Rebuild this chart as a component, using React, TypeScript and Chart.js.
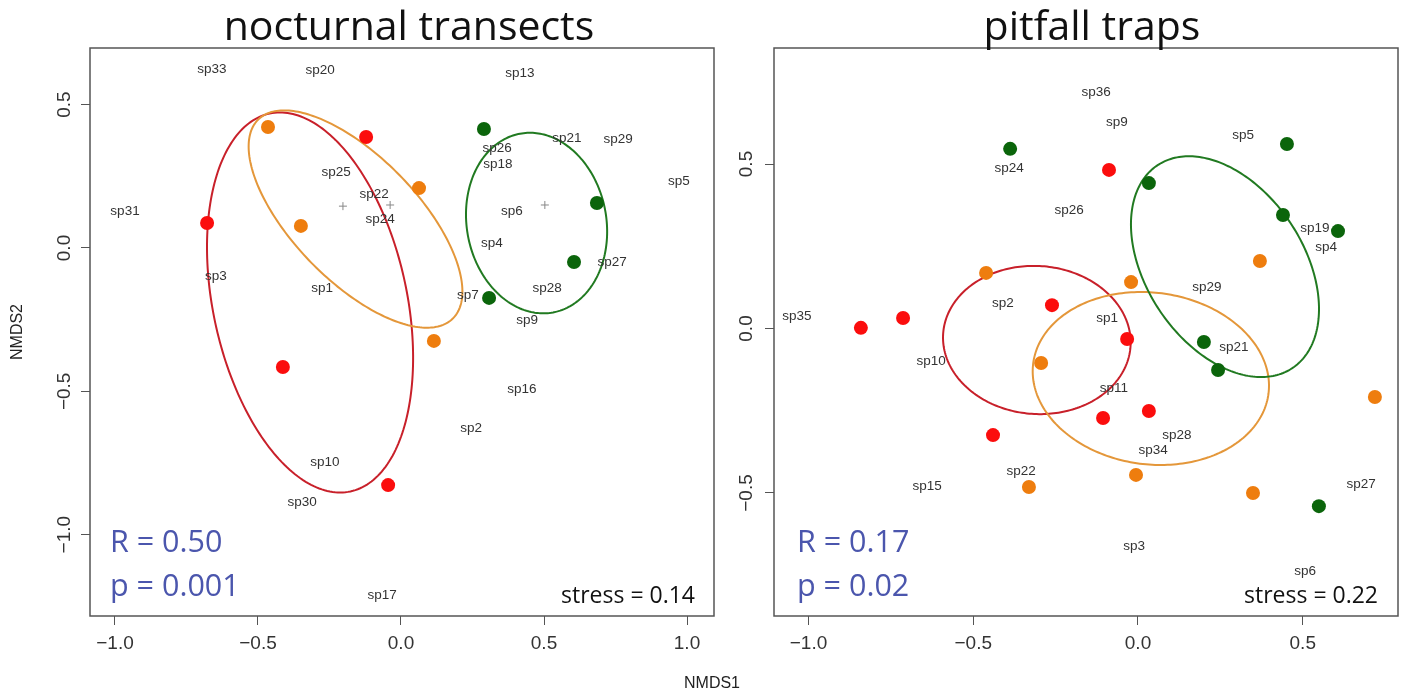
import React, { useEffect, useRef } from 'react';
import { Chart, registerables } from 'chart.js';

Chart.register(...registerables);

// ---------- nocturnal transects (left panel) ----------
const NT_RED_X = [-0.678, -0.122, -0.413, -0.045];
const NT_RED_Y = [0.087, 0.387, -0.415, -0.827];
const NT_ORANGE_X = [-0.465, -0.35, 0.063, 0.115];
const NT_ORANGE_Y = [0.422, 0.077, 0.209, -0.324];
const NT_GREEN_X = [0.29, 0.685, 0.605, 0.308];
const NT_GREEN_Y = [0.415, 0.157, -0.049, -0.174];
const NT_CROSS_X = [-0.203, -0.038, 0.503];
const NT_CROSS_Y = [0.146, 0.15, 0.15];
const NT_SPECIES = ['sp33', 'sp20', 'sp13', 'sp21', 'sp29', 'sp26', 'sp18', 'sp5', 'sp25', 'sp22', 'sp24', 'sp31', 'sp6', 'sp4', 'sp27', 'sp3', 'sp1', 'sp28', 'sp7', 'sp9', 'sp16', 'sp2', 'sp10', 'sp30', 'sp17'];
const NT_SPECIES_X = [-0.661, -0.283, 0.416, 0.58, 0.759, 0.336, 0.339, 0.972, -0.227, -0.094, -0.073, -0.965, 0.388, 0.318, 0.738, -0.647, -0.276, 0.511, 0.234, 0.441, 0.423, 0.245, -0.266, -0.346, -0.066];
const NT_SPECIES_Y = [0.624, 0.621, 0.61, 0.384, 0.38, 0.349, 0.293, 0.234, 0.265, 0.188, 0.101, 0.129, 0.129, 0.017, -0.049, -0.098, -0.14, -0.14, -0.164, -0.251, -0.492, -0.628, -0.746, -0.886, -1.21];
// ellipses: red, orange, green
const NT_ELL_CX = [-0.318, -0.159, 0.474];
const NT_ELL_CY = [-0.19, 0.101, 0.087];
const NT_ELL_A = [0.674, 0.486, 0.317];
const NT_ELL_B = [0.339, 0.217, 0.244];
const NT_ELL_ANGLE = [102.1, -45.6, 100.5];
const NT_X_TICKS = [-1, -0.5, 0, 0.5, 1];
const NT_Y_TICKS = [-1, -0.5, 0, 0.5];

// ---------- pitfall traps (right panel) ----------
const PT_RED_X = [-0.841, -0.713, -0.261, -0.088, -0.033, -0.44, -0.106, 0.033];
const PT_RED_Y = [0.002, 0.032, 0.071, 0.482, -0.032, -0.324, -0.272, -0.251];
const PT_ORANGE_X = [-0.461, -0.294, -0.021, 0.37, 0.719, -0.006, 0.349, -0.331];
const PT_ORANGE_Y = [0.169, -0.105, 0.141, 0.205, -0.208, -0.445, -0.5, -0.482];
const PT_GREEN_X = [-0.388, 0.033, 0.452, 0.44, 0.607, 0.2, 0.243, 0.549];
const PT_GREEN_Y = [0.546, 0.442, 0.561, 0.345, 0.296, -0.041, -0.126, -0.54];
const PT_SPECIES = ['sp36', 'sp9', 'sp5', 'sp24', 'sp26', 'sp19', 'sp4', 'sp29', 'sp2', 'sp1', 'sp35', 'sp10', 'sp21', 'sp11', 'sp28', 'sp34', 'sp22', 'sp15', 'sp27', 'sp3', 'sp6'];
const PT_SPECIES_X = [-0.127, -0.064, 0.319, -0.391, -0.209, 0.537, 0.571, 0.209, -0.41, -0.094, -1.035, -0.628, 0.291, -0.073, 0.118, 0.046, -0.355, -0.64, 0.677, -0.012, 0.507];
const PT_SPECIES_Y = [0.719, 0.627, 0.588, 0.488, 0.36, 0.305, 0.248, 0.126, 0.078, 0.032, 0.038, -0.099, -0.056, -0.181, -0.324, -0.369, -0.433, -0.479, -0.473, -0.661, -0.737];
const PT_ELL_CX = [-0.307, 0.039, 0.264];
const PT_ELL_CY = [-0.035, -0.152, 0.188];
const PT_ELL_A = [0.285, 0.36, 0.37];
const PT_ELL_B = [0.225, 0.261, 0.239];
const PT_ELL_ANGLE = [-4, -7.4, 123.5];
const PT_X_TICKS = [-1, -0.5, 0, 0.5];
const PT_Y_TICKS = [-0.5, 0, 0.5];

const DOT_COLORS = ['#fb0d0d', '#ee7d0e', '#0b650b'];
const ELL_COLORS = ['#c8202a', '#e4973a', '#217a21'];
const BLUE = '#4b56ad';
const SANS = '"Liberation Sans", Arial, Helvetica, sans-serif';
const CAL = '"Open Sans", "Liberation Sans", sans-serif';

const fmt = (v: number) => (v < 0 ? '\u2212' : '') + Math.abs(v).toFixed(1);
const zip = (xs: number[], ys: number[]) => xs.map((x, i) => ({ x, y: ys[i] }));

type Panel = {
  canvasW: number;
  areaLeft: number;
  areaRight: number;
  xMin: number; xMax: number; yMin: number; yMax: number;
  xTicks: number[]; yTicks: number[];
  yTickPad: number;
  red: { x: number; y: number }[];
  orange: { x: number; y: number }[];
  green: { x: number; y: number }[];
  cross: { x: number; y: number }[];
  species: string[]; spX: number[]; spY: number[];
  ell: { cx: number[]; cy: number[]; a: number[]; b: number[]; ang: number[] };
  title: string; titleX: number;
  rText: string; pText: string; annX: number;
  stress: string; stressX: number;
  yTitle: string | null;
};

const TOP = 48;
const BOTTOM = 616;
const H = 695;

function decor(P: Panel) {
  return {
    id: 'decor',
    beforeDatasetsDraw(chart: any) {
      const { ctx, chartArea: ca } = chart;
      const xs = chart.scales.x;
      const ys = chart.scales.y;
      ctx.save();
      ctx.beginPath();
      ctx.rect(ca.left, ca.top, ca.right - ca.left, ca.bottom - ca.top);
      ctx.clip();
      for (let i = 0; i < P.ell.cx.length; i++) {
        const th = (P.ell.ang[i] * Math.PI) / 180;
        ctx.beginPath();
        const N = 240;
        for (let k = 0; k <= N; k++) {
          const t = (2 * Math.PI * k) / N;
          const dx = P.ell.a[i] * Math.cos(t);
          const dy = P.ell.b[i] * Math.sin(t);
          const X = P.ell.cx[i] + dx * Math.cos(th) - dy * Math.sin(th);
          const Y = P.ell.cy[i] + dx * Math.sin(th) + dy * Math.cos(th);
          const px = xs.getPixelForValue(X);
          const py = ys.getPixelForValue(Y);
          if (k === 0) ctx.moveTo(px, py);
          else ctx.lineTo(px, py);
        }
        ctx.closePath();
        ctx.strokeStyle = ELL_COLORS[i];
        ctx.lineWidth = 2;
        ctx.stroke();
      }
      // species labels
      ctx.fillStyle = '#333';
      ctx.font = `13.5px ${SANS}`;
      ctx.textAlign = 'center';
      ctx.textBaseline = 'middle';
      P.species.forEach((s, i) => {
        ctx.fillText(s, xs.getPixelForValue(P.spX[i]), ys.getPixelForValue(P.spY[i]));
      });
      ctx.restore();
    },
    afterDraw(chart: any) {
      const { ctx, chartArea: ca } = chart;
      ctx.save();
      ctx.strokeStyle = '#555';
      ctx.lineWidth = 1.5;
      ctx.strokeRect(ca.left, ca.top, ca.right - ca.left, ca.bottom - ca.top);
      // title
      ctx.fillStyle = '#111';
      ctx.font = `41px ${CAL}`;
      ctx.textAlign = 'center';
      ctx.textBaseline = 'alphabetic';
      ctx.fillText(P.title, P.titleX, 40);
      // R and p
      ctx.fillStyle = BLUE;
      ctx.font = `30.5px ${CAL}`;
      ctx.textAlign = 'left';
      ctx.fillText(P.rText, P.annX, 552);
      ctx.fillText(P.pText, P.annX, 596);
      // stress
      ctx.fillStyle = '#111';
      ctx.font = `23px ${CAL}`;
      ctx.textAlign = 'right';
      ctx.fillText(P.stress, P.stressX, 603);
      ctx.restore();
    },
  };
}

function makeChart(canvas: HTMLCanvasElement, P: Panel) {
  const tickFont = { family: SANS, size: 19 };
  const grid = { display: true, drawOnChartArea: false, drawTicks: true, tickLength: 9, color: '#555', lineWidth: 1 };
  return new Chart(canvas, {
    type: 'scatter',
    data: {
      datasets: [
        { data: P.red, backgroundColor: DOT_COLORS[0], pointRadius: 7, borderWidth: 0 },
        { data: P.orange, backgroundColor: DOT_COLORS[1], pointRadius: 7, borderWidth: 0 },
        { data: P.green, backgroundColor: DOT_COLORS[2], pointRadius: 7, borderWidth: 0 },
        { data: P.cross, pointStyle: 'cross', pointRadius: 4, borderColor: '#888', backgroundColor: '#888', borderWidth: 1 },
      ],
    },
    options: {
      responsive: false,
      animation: false,
      events: [],
      layout: { padding: { top: TOP, left: 0, bottom: 0, right: P.canvasW - P.areaRight } },
      plugins: { legend: { display: false }, tooltip: { enabled: false }, title: { display: false } },
      scales: {
        x: {
          type: 'linear',
          position: 'bottom',
          min: P.xMin,
          max: P.xMax,
          afterBuildTicks: (s: any) => { s.ticks = P.xTicks.map((v) => ({ value: v })); },
          afterFit: (s: any) => { s.height = H - BOTTOM; },
          grid,
          border: { display: false },
          ticks: { callback: (v: any) => fmt(Number(v)), font: tickFont, color: '#333', padding: 7, autoSkip: false, minRotation: 0, maxRotation: 0 },
        },
        y: {
          type: 'linear',
          position: 'left',
          min: P.yMin,
          max: P.yMax,
          afterBuildTicks: (s: any) => { s.ticks = P.yTicks.map((v) => ({ value: v })); },
          afterFit: (s: any) => { s.width = P.areaLeft; },
          grid,
          border: { display: false },
          title: P.yTitle
            ? { display: true, text: P.yTitle, font: { family: SANS, size: 16 }, color: '#222', padding: { top: 8, bottom: 0 } }
            : { display: false },
          ticks: { callback: (v: any) => fmt(Number(v)), font: tickFont, color: '#333', padding: P.yTickPad, autoSkip: false, minRotation: 90, maxRotation: 90, crossAlign: 'center' },
        },
      },
    } as any,
    plugins: [decor(P)],
  });
}

const LEFT: Panel = {
  canvasW: 735,
  areaLeft: 90,
  areaRight: 714,
  xMin: -1.0874, xMax: 1.0944, yMin: -1.2836, yMax: 0.6976,
  xTicks: NT_X_TICKS, yTicks: NT_Y_TICKS,
  yTickPad: -3,
  red: zip(NT_RED_X, NT_RED_Y),
  orange: zip(NT_ORANGE_X, NT_ORANGE_Y),
  green: zip(NT_GREEN_X, NT_GREEN_Y),
  cross: zip(NT_CROSS_X, NT_CROSS_Y),
  species: NT_SPECIES, spX: NT_SPECIES_X, spY: NT_SPECIES_Y,
  ell: { cx: NT_ELL_CX, cy: NT_ELL_CY, a: NT_ELL_A, b: NT_ELL_B, ang: NT_ELL_ANGLE },
  title: 'nocturnal transects', titleX: 409,
  rText: 'R = 0.50', pText: 'p = 0.001', annX: 110,
  stress: 'stress = 0.14', stressX: 695,
  yTitle: 'NMDS2',
};

const RIGHT: Panel = {
  canvasW: 670,
  areaLeft: 39,
  areaRight: 663,
  xMin: -1.1047, xMax: 0.7891, yMin: -0.8739, yMax: 0.8526,
  xTicks: PT_X_TICKS, yTicks: PT_Y_TICKS,
  yTickPad: -1,
  red: zip(PT_RED_X, PT_RED_Y),
  orange: zip(PT_ORANGE_X, PT_ORANGE_Y),
  green: zip(PT_GREEN_X, PT_GREEN_Y),
  cross: [],
  species: PT_SPECIES, spX: PT_SPECIES_X, spY: PT_SPECIES_Y,
  ell: { cx: PT_ELL_CX, cy: PT_ELL_CY, a: PT_ELL_A, b: PT_ELL_B, ang: PT_ELL_ANGLE },
  title: 'pitfall traps', titleX: 357,
  rText: 'R = 0.17', pText: 'p = 0.02', annX: 62,
  stress: 'stress = 0.22', stressX: 643,
  yTitle: null,
};

export default function App() {
  const leftRef = useRef<HTMLCanvasElement>(null);
  const rightRef = useRef<HTMLCanvasElement>(null);

  useEffect(() => {
    const c1 = makeChart(leftRef.current!, LEFT);
    const c2 = makeChart(rightRef.current!, RIGHT);
    return () => {
      c1.destroy();
      c2.destroy();
    };
  }, []);

  return (
    <div style={{ position: 'absolute', left: 0, top: 0, width: 1405, height: 695, background: '#fff', overflow: 'hidden' }}>
      <canvas ref={leftRef} width={735} height={695} style={{ position: 'absolute', left: 0, top: 0 }} />
      <canvas ref={rightRef} width={670} height={695} style={{ position: 'absolute', left: 735, top: 0 }} />
      <div
        style={{
          position: 'absolute',
          left: 712,
          top: 683,
          transform: 'translate(-50%, -50%)',
          font: `16px ${SANS}`,
          color: '#222',
          whiteSpace: 'nowrap',
        }}
      >
        NMDS1
      </div>
    </div>
  );
}
